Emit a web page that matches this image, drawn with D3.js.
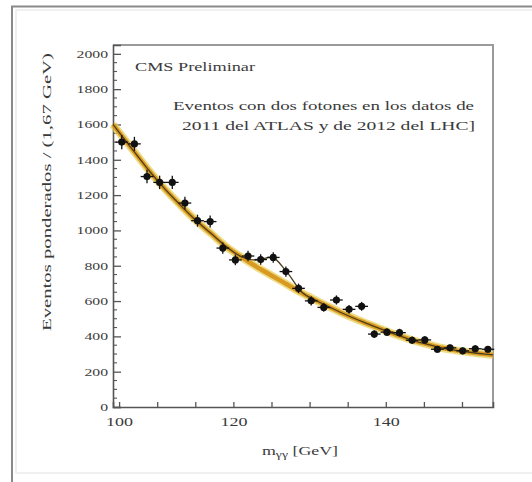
<!DOCTYPE html>
<html><head><meta charset="utf-8">
<script src="https://cdn.jsdelivr.net/npm/d3@7/dist/d3.min.js"></script>
<style>body{margin:0;background:#fff}svg{display:block}text{font-family:"Liberation Serif","Times New Roman",serif;fill:#3a3a3a}</style>
</head><body><svg id="c" width="532" height="482"></svg>
<script>
// ---- data ----
const massGeV = [100.35,102.01,103.66,105.32,106.98,108.64,110.29,111.95,113.61,115.26,116.92,118.58,120.23,121.89,123.55,125.21,126.86,128.52,130.18,131.83,133.49,135.15,136.80,138.46,140.12,141.77,143.43,145.09,146.74,148.40];
const events  = [1500,1490,1305,1272,1272,1155,1055,1050,900,833,855,835,847,767,672,601,564,606,553,570,413,424,421,378,380,327,335,318,330,327];
const errors  = [40,40,38,38,38,36,34,34,32,30,30,30,30,29,27,26,25,26,25,25,22,22,22,21,21,19,19,19,19,19];
const fitX = [99.2,100,102,104,106,108,110,112,114,116,118,120,122,124,126,128,130,132,134,136,138,140,142,144,146,148,149.07];
const bkgY = [1600,1555,1445,1335,1235,1145,1060,985,910,850,795,745,695,645,600,558,518,482,448,415,385,360,338,322,310,300,295];
const sbY  = [1600,1555,1445,1335,1235,1145,1060,985,910,852,832,848,765,650,600,558,518,482,448,415,385,360,338,322,310,300,295];
const yTicks = [0,200,400,600,800,1000,1200,1400,1600,1800,2000];
const xTicks = [100,105,110,115,120,125,130,135,140,145];
const xLabelAt = [100,115,135];
const xLabelText = ["100","120","140"];

const svg = d3.select("#c");
const L=113,R=493,T=45,B=407;
const x = d3.scaleLinear().domain([99.2,149.07]).range([L,R]);
const y = d3.scaleLinear().domain([0,2050]).range([B,T]);

// outer frames
svg.append("rect").attr("x",16).attr("y",10).attr("width",540).attr("height",463).attr("fill","none").attr("stroke","#e2e2e2").attr("stroke-width",1);
svg.append("path").attr("d","M12,482V6.5H532").attr("fill","none").attr("stroke","#8a8a8a").attr("stroke-width",2);

// plot frame
svg.append("path").attr("d",`M${L},${T}H${R}V${B}`).attr("fill","none").attr("stroke","#9a9a9a").attr("stroke-width",2);

// y axis
const yAx = svg.append("g").attr("transform",`translate(${L},0)`)
  .call(d3.axisLeft(y).tickValues(yTicks).tickSize(-8).tickPadding(5).tickFormat(d3.format("d")));
yAx.select(".domain").attr("stroke","#555").attr("stroke-width",1.6);
yAx.selectAll(".tick line").attr("stroke","#555").attr("stroke-width",1.3);
yAx.selectAll("text").attr("font-size",10.5).attr("fill","#444").style("font-family","Liberation Serif");
const minorY = d3.range(0,2050,50).filter(v=>v%200!==0);
svg.append("g").selectAll("line").data(minorY).join("line")
  .attr("x1",L).attr("x2",L+4).attr("y1",d=>y(d)).attr("y2",d=>y(d)).attr("stroke","#555").attr("stroke-width",1.1);

// x axis
const xAx = svg.append("g").attr("transform",`translate(0,${B})`)
  .call(d3.axisBottom(x).tickValues(xTicks).tickSize(-5).tickPadding(10)
    .tickFormat(d=>{const i=xLabelAt.indexOf(d);return i>=0?xLabelText[i]:"";}));
xAx.select(".domain").attr("stroke","#555").attr("stroke-width",1.6);
xAx.selectAll(".tick line").attr("stroke","#555").attr("stroke-width",1.3);
xAx.selectAll("text").attr("font-size",12).attr("fill","#444").style("font-family","Liberation Serif");

// horizontal stretch for tick labels (picture is widened)
svg.selectAll(".tick text").each(function(){
  const w=this.getComputedTextLength(); if(w>0) d3.select(this).attr("textLength",w*1.5).attr("lengthAdjust","spacingAndGlyphs");
});

// fit curves
const line = (ys)=>d3.line().x((d,i)=>x(fitX[i])).y(d=>y(d)).curve(d3.curveMonotoneX)(ys);
svg.append("path").attr("d",line(bkgY)).attr("fill","none").attr("stroke","#e6cf55").attr("stroke-width",8).attr("opacity",0.7);
svg.append("path").attr("d",line(bkgY)).attr("fill","none").attr("stroke","#d99a22").attr("stroke-width",4.5);
svg.append("path").attr("d",line(sbY)).attr("fill","none").attr("stroke","#4d3d1a").attr("stroke-width",1.3);

// data points with error bars
const pts = svg.append("g").selectAll("g").data(events).join("g");
pts.append("line").attr("x1",(d,i)=>x(massGeV[i]-0.83)).attr("x2",(d,i)=>x(massGeV[i]+0.83))
  .attr("y1",d=>y(d)).attr("y2",d=>y(d)).attr("stroke","#111").attr("stroke-width",1.3);
pts.append("line").attr("x1",(d,i)=>x(massGeV[i])).attr("x2",(d,i)=>x(massGeV[i]))
  .attr("y1",(d,i)=>y(d+errors[i])).attr("y2",(d,i)=>y(d-errors[i])).attr("stroke","#111").attr("stroke-width",1.3);
pts.append("circle").attr("cx",(d,i)=>x(massGeV[i])).attr("cy",d=>y(d)).attr("r",3.6).attr("fill","#111");

// texts
function txt(str,xx,yy,size,len,anchor){
  return svg.append("text").attr("x",xx).attr("y",yy).attr("font-size",size)
    .attr("text-anchor",anchor||"start").attr("textLength",len).attr("lengthAdjust","spacingAndGlyphs").text(str);
}
txt("CMS Preliminar",135,71,12.5,120);
txt("Eventos con dos fotones en los datos de",474,110,13.5,301,"end");
txt("2011 del ATLAS y de 2012 del LHC]",475,130,13.5,293,"end");

// y title
svg.append("text").attr("transform","translate(51,192) rotate(-90)").attr("text-anchor","middle")
  .attr("font-size",12).attr("textLength",278).attr("lengthAdjust","spacingAndGlyphs")
  .text("Eventos ponderados  /  (1,67 GeV)");

// x title
const xt = svg.append("text").attr("x",262).attr("y",455).attr("font-size",13);
xt.append("tspan").text("m");
xt.append("tspan").attr("font-size",10).attr("dy",3).text("γγ");
xt.append("tspan").attr("dy",-3).text("  [GeV]");
xt.attr("textLength",76).attr("lengthAdjust","spacingAndGlyphs");
</script></body></html>
